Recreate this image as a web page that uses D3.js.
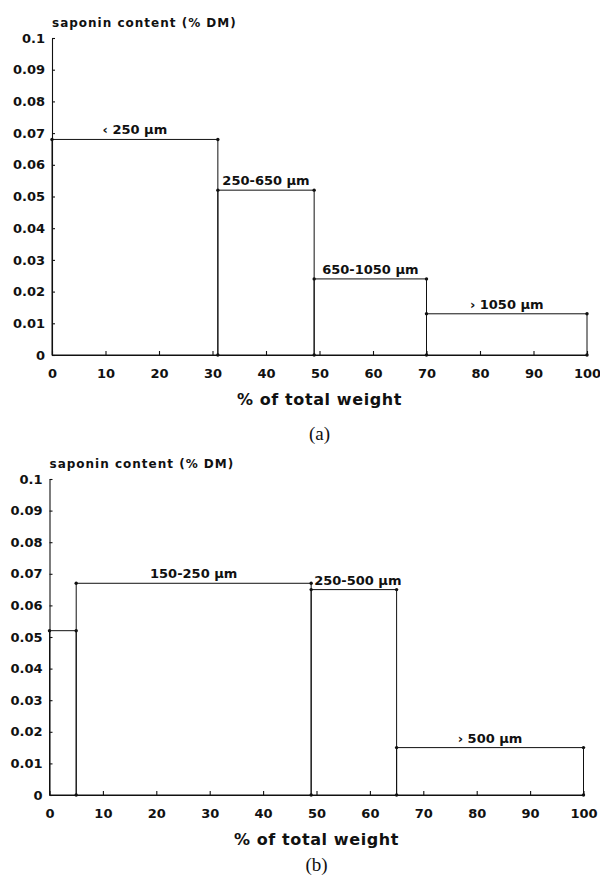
<!DOCTYPE html>
<html>
<head>
<meta charset="utf-8">
<script src="https://cdn.jsdelivr.net/npm/d3@7/dist/d3.min.js"></script>
<style>
  body { margin: 0; background: #fff; }
  text { font-family: "DejaVu Sans", sans-serif; font-weight: bold; fill: #111; }
  .caption { font-family: "Liberation Serif", "DejaVu Serif", serif; font-weight: normal; }
</style>
</head>
<body>
<div id="chart"></div>
<script>
"use strict";

// shared axes
var xTicks = [0, 10, 20, 30, 40, 50, 60, 70, 80, 90, 100];
var yTicks = [0, 0.01, 0.02, 0.03, 0.04, 0.05, 0.06, 0.07, 0.08, 0.09, 0.1];
var yTickLabels = ["0", "0.01", "0.02", "0.03", "0.04", "0.05", "0.06", "0.07", "0.08", "0.09", "0.1"];

// panel (a)
var aEdges = [0, 31, 49, 70, 100];
var aValues = [0.068, 0.052, 0.024, 0.013];
var aLabels = ["\u2039 250 \u00b5m", "250-650 \u00b5m", "650-1050 \u00b5m", "\u203a 1050 \u00b5m"];

// panel (b)
var bEdges = [0, 5, 49, 65, 100];
var bValues = [0.052, 0.067, 0.065, 0.015];
var bLabels = ["", "150-250 \u00b5m", "250-500 \u00b5m", "\u203a 500 \u00b5m"];

var yTitle = "saponin content (% DM)";
var xTitle = "% of total weight";

var svg = d3.select("#chart")
    .append("svg")
    .attr("width", 600)
    .attr("height", 883);

drawPanel({ left: 52, right: 587, top: 38, bottom: 355, caption: 440 },
    aEdges, aValues, aLabels, "(a)");
drawPanel({ left: 49.5, right: 583.5, top: 479, bottom: 795, caption: 871 },
    bEdges, bValues, bLabels, "(b)");

function drawPanel(box, edges, values, labels, caption) {
    var x = d3.scaleLinear().domain([0, 100]).range([box.left, box.right]);
    var y = d3.scaleLinear().domain([0, 0.1]).range([box.bottom, box.top]);
    var g = svg.append("g");

    var yAxis = d3.axisLeft(y)
        .tickValues(yTicks)
        .tickFormat(function (d, i) { return yTickLabels[i]; })
        .tickSizeInner(-3)
        .tickSizeOuter(0)
        .tickPadding(7);
    var xAxis = d3.axisBottom(x)
        .tickValues(xTicks)
        .tickSizeInner(-4)
        .tickSizeOuter(0)
        .tickPadding(14);

    g.append("g")
        .attr("transform", "translate(" + box.left + ",0)")
        .call(yAxis);
    g.append("g")
        .attr("transform", "translate(0," + box.bottom + ")")
        .call(xAxis);
    g.selectAll(".tick text").style("font-size", "13px");
    g.selectAll(".domain, .tick line").attr("stroke", "#111").attr("stroke-width", 1.1);

    var bins = values.map(function (v, i) {
        return { x0: edges[i], x1: edges[i + 1], v: v, label: labels[i] };
    });

    g.selectAll("rect.bar")
        .data(bins)
        .enter()
        .append("rect")
        .attr("class", "bar")
        .attr("x", function (d) { return x(d.x0); })
        .attr("y", function (d) { return y(d.v); })
        .attr("width", function (d) { return x(d.x1) - x(d.x0); })
        .attr("height", function (d) { return y(0) - y(d.v); })
        .attr("fill", "none")
        .attr("stroke", "#111")
        .attr("stroke-width", 1);

    // corner dots
    var dots = [];
    bins.forEach(function (d) {
        dots.push([d.x0, d.v], [d.x1, d.v], [d.x1, 0]);
    });
    g.selectAll("circle.dot")
        .data(dots)
        .enter()
        .append("circle")
        .attr("cx", function (d) { return x(d[0]); })
        .attr("cy", function (d) { return y(d[1]); })
        .attr("r", 1.7)
        .attr("fill", "#111");

    g.selectAll("text.bin")
        .data(bins.filter(function (d) { return d.label; }))
        .enter()
        .append("text")
        .attr("class", "bin")
        .attr("y", function (d) { return y(d.v) - 5; })
        .style("font-size", "13px")
        .text(function (d) { return d.label; })
        .attr("x", function (d) {
            var w = this.getComputedTextLength();
            var mid = (x(d.x0) + x(d.x1)) / 2;
            return Math.max(mid - w / 2, x(d.x0) + 3);
        });

    g.append("text")
        .attr("x", box.left)
        .attr("y", box.top - 11)
        .style("font-size", "12px")
        .style("letter-spacing", "1px")
        .text(yTitle);

    g.append("text")
        .attr("x", (box.left + box.right) / 2)
        .attr("y", box.bottom + 50)
        .attr("text-anchor", "middle")
        .style("font-size", "16px")
        .style("letter-spacing", "0.6px")
        .text(xTitle);

    g.append("text")
        .attr("class", "caption")
        .attr("x", (box.left + box.right) / 2)
        .attr("y", box.caption)
        .attr("text-anchor", "middle")
        .style("font-size", "19px")
        .text(caption);
}
</script>
</body>
</html>
